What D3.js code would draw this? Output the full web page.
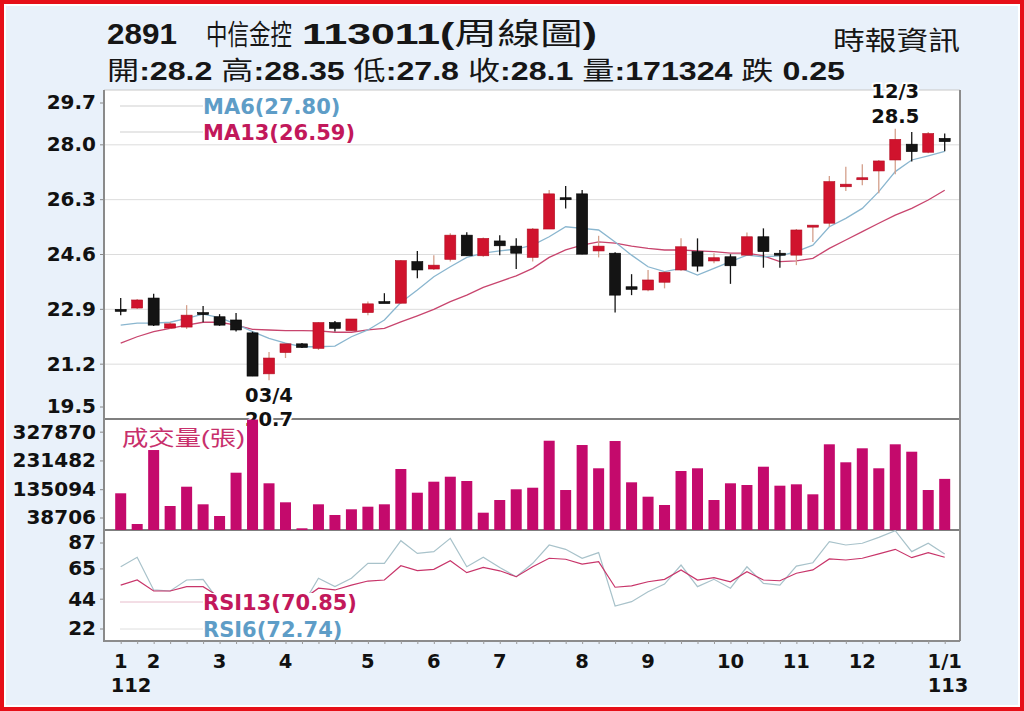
<!DOCTYPE html>
<html><head><meta charset="utf-8">
<script src="https://cdn.jsdelivr.net/npm/d3@7"></script>
<style>html,body{margin:0;padding:0;background:#fff}svg{display:block}</style>
</head><body>
<svg id="c" width="1024" height="711"></svg>
<script>
// ---------- data ----------
const weeks = d3.range(51);
const open  = [22.90,22.94,23.25,22.32,22.35,22.80,22.67,22.57,22.17,20.90,21.56,21.83,21.69,22.49,22.24,22.80,23.14,23.09,24.38,24.15,24.45,25.20,24.56,25.02,24.86,24.51,25.39,26.36,26.48,24.71,24.64,23.60,23.50,23.74,24.12,24.69,24.40,24.53,24.58,25.15,24.64,24.58,25.49,25.57,26.70,26.92,27.19,27.53,28.02,27.77,28.20];
const high  = [23.25,23.22,23.38,22.50,23.03,23.00,22.75,22.79,22.21,21.58,21.83,21.86,22.50,22.54,22.60,23.14,23.40,24.43,24.71,24.58,25.26,25.29,25.13,25.20,25.10,25.42,26.60,26.72,26.60,25.18,24.67,23.99,24.12,24.08,25.10,25.10,24.64,24.61,25.28,25.41,24.74,25.39,25.51,27.03,27.32,27.40,27.53,28.50,28.40,28.40,28.35];
const low   = [22.72,22.91,22.38,22.29,22.29,22.50,22.39,22.21,20.83,20.70,21.39,21.70,21.64,22.21,22.24,22.72,23.12,23.07,23.86,24.12,24.38,24.56,24.53,24.58,24.15,24.38,25.39,26.03,24.61,24.51,22.80,23.34,23.46,23.55,24.10,24.07,24.33,23.69,24.58,24.19,24.19,24.27,24.99,25.46,26.57,26.75,26.50,27.09,27.48,27.74,27.80];
const close = [22.85,23.19,22.41,22.45,22.72,22.76,22.41,22.26,20.83,21.39,21.83,21.72,22.49,22.31,22.60,23.07,23.12,24.41,24.12,24.27,25.20,24.56,25.10,24.87,24.64,25.39,26.48,26.33,24.61,24.86,23.34,23.52,23.81,24.05,24.84,24.24,24.50,24.25,25.15,24.69,24.60,25.36,25.51,26.86,26.78,26.98,27.50,28.17,27.79,28.35,28.10];
const volume = [123000,20100,268000,80400,145100,86100,46900,192000,370000,156500,92800,5700,86100,50300,69400,78100,86100,204400,125000,161900,178600,164200,58000,100500,136400,141700,299200,134000,284800,206800,298200,159800,111600,83800,197700,206800,100500,156500,150800,212100,148500,153100,119600,287200,226900,273800,206800,287200,262400,134000,171324];
const ma6  = [22.41,22.47,22.47,22.50,22.62,22.75,22.64,22.44,22.21,22.00,21.85,21.74,21.74,21.76,22.05,22.26,22.57,23.11,23.50,23.91,24.22,24.51,24.64,24.71,24.77,24.89,25.15,25.46,25.41,25.36,24.99,24.58,24.22,24.07,24.17,23.96,24.17,24.38,24.58,24.53,24.56,24.69,24.89,25.46,25.72,26.03,26.55,27.17,27.53,27.66,27.80];
const ma13 = [21.85,22.05,22.21,22.31,22.41,22.50,22.50,22.41,22.28,22.26,22.24,22.24,22.23,22.19,22.19,22.26,22.31,22.51,22.70,22.90,23.14,23.34,23.58,23.76,23.94,24.17,24.51,24.74,24.89,24.99,24.95,24.86,24.79,24.74,24.74,24.71,24.69,24.64,24.64,24.56,24.38,24.40,24.48,24.79,25.05,25.31,25.57,25.82,26.03,26.29,26.59];
const rsi6  = [66.5,73.1,50.4,49.7,57.3,57.8,42.1,35.1,21.2,28.2,35.1,39.3,58.5,52.7,58.5,68.9,68.9,84.6,75.8,77.0,86.2,66.5,73.1,66.0,59.6,68.9,81.6,78.6,72.4,76.3,39.3,42.3,49.2,54.5,67.7,52.7,57.8,51.6,66.5,55.0,53.8,67.0,69.3,83.9,81.6,82.8,86.9,91.5,77.0,82.8,75.4];
const rsi13 = [53.8,57.3,49.7,49.7,52.7,52.7,45.5,42.1,35.1,37.9,41.4,43.4,51.6,50.4,53.8,56.6,57.3,67.2,63.8,64.7,70.7,62.4,66.1,63.7,59.6,66.5,72.4,71.7,68.4,70.0,52.3,53.2,56.1,57.8,64.3,57.3,58.9,56.1,63.1,57.3,56.8,62.0,64.3,71.9,71.2,72.4,75.4,78.6,72.8,76.3,73.1];
const priceTicks  = [29.7,28.0,26.3,24.6,22.9,21.2,19.5];
const volumeTicks = [327870,231482,135094,38706];
const rsiTicks    = [87,65,44,22];
const monthTickWeeks = [0,2,6,10,15,19,23,28,32,37,41,45,50];
const monthLabels    = ["1","2","3","4","5","6","7","8","9","10","11","12","1/1"];
const yearTickWeeks  = [0,50];
const yearLabels     = ["112","113"];
const lowMark  = {week:9,  date:"03/4", price:"20.7"};
const highMark = {week:47, date:"12/3", price:"28.5"};

// ---------- layout ----------
const L=104, R=960, T=90, PB=419, VB=530, RB=641;
const svg = d3.select("#c");
const AX = "'DejaVu Sans', Verdana, sans-serif";
const TF = "'Liberation Sans', Arial, 'Noto Sans CJK TC', sans-serif";

svg.append("rect").attr("width",1024).attr("height",711).attr("fill","#e60f18");
svg.append("rect").attr("x",4).attr("y",4).attr("width",1016).attr("height",703).attr("fill","#ffffff");
svg.append("rect").attr("x",6).attr("y",6).attr("width",1012).attr("height",699).attr("fill","#e9f1fa");
svg.append("rect").attr("x",L).attr("y",T).attr("width",R-L).attr("height",RB-T).attr("fill","#fff");

const x  = d3.scalePoint().domain(weeks).range([120.7, 944.7]);
const yP = d3.scaleLinear().domain([19.5, 29.7]).range([PB, T]);
const yV = d3.scaleLinear().domain([0, 372000]).range([VB, PB]);
const yR = d3.scaleLinear().domain([15, 92]).range([RB, VB]);
const clampLab = (y, top, bot) => Math.max(top+13, Math.min(bot-12, y));

// ---------- title ----------
function seg(parent, x0, y0, size, len){
  return parent.append("text").attr("x",x0).attr("y",y0).attr("font-family",TF)
    .attr("font-size",size).attr("fill","#161616")
    .attr("textLength",len).attr("lengthAdjust","spacingAndGlyphs");
}
seg(svg,107,44,30,70).attr("font-weight","bold").text("2891");
svg.append("text").attr("transform","translate(206,45) scale(1,1.3)")
  .attr("font-family",TF).attr("font-size",21.5).attr("fill","#161616").text("中信金控");
{
  const t = seg(svg,302,44,30,295);
  t.append("tspan").attr("font-weight","bold").text("113011(");
  t.append("tspan").attr("font-weight","normal").text("周線圖");
  t.append("tspan").attr("font-weight","bold").text(")");
}
seg(svg,833,50,26,127).attr("font-weight","normal").text("時報資訊");
{
  const t = seg(svg,107,80,26,738);
  const parts = [["開",0],[":28.2 ",1],["高",0],[":28.35 ",1],["低",0],[":27.8 ",1],["收",0],[":28.1 ",1],["量",0],[":171324 ",1],["跌",0],[" 0.25",1]];
  parts.forEach(([s,b]) => t.append("tspan").attr("font-weight", b ? "bold" : "normal").text(s));
}

// ---------- price panel ----------
const gP = svg.append("g");
gP.selectAll("line.grid").data(priceTicks.slice(1,-1)).join("line")
  .attr("x1",L).attr("x2",R).attr("y1",d=>yP(d)).attr("y2",d=>yP(d))
  .attr("stroke","#dcdcdc").attr("stroke-width",1);

const maLine = arr => d3.line().x(i=>x(i)).y(i=>yP(arr[i]))(weeks);
gP.append("path").attr("d",maLine(ma13)).attr("fill","none").attr("stroke","#c8456e").attr("stroke-width",1.3);
gP.append("path").attr("d",maLine(ma6)).attr("fill","none").attr("stroke","#8ab6cf").attr("stroke-width",1.3);

const up = i => close[i] >= open[i];
const bw = 11;
gP.selectAll("line.wick").data(weeks).join("line")
  .attr("x1",i=>x(i)).attr("x2",i=>x(i)).attr("y1",i=>yP(high[i])).attr("y2",i=>yP(low[i]))
  .attr("stroke",i=>up(i) ? "#d4a08c" : "#151515").attr("stroke-width",1.3);
gP.selectAll("rect.body").data(weeks).join("rect")
  .attr("x",i=>x(i)-bw/2).attr("width",bw)
  .attr("y",i=>yP(Math.max(open[i],close[i])))
  .attr("height",i=>Math.max(2, Math.abs(yP(open[i])-yP(close[i]))))
  .attr("fill",i=>up(i) ? "#d0132d" : "#141414")
  .attr("stroke",i=>up(i) ? "#b30e22" : "#000").attr("stroke-width",0.6);

// MA legend
[[106,"MA6(27.80)","#5e9dc7"],[132,"MA13(26.59)","#c2185b"]].forEach(([y,s,c])=>{
  gP.append("line").attr("x1",120).attr("x2",203).attr("y1",y).attr("y2",y).attr("stroke","#cfcfcf");
  gP.append("text").attr("x",203).attr("y",y+8).attr("font-family",AX).attr("font-weight","bold")
    .attr("font-size",21).attr("fill",c).text(s);
});

// frame lines
const frame = svg.append("g");
frame.append("line").attr("x1",L).attr("x2",R).attr("y1",T).attr("y2",T).attr("stroke","#c8c8c8").attr("stroke-width",1);
frame.append("line").attr("x1",L).attr("x2",R).attr("y1",PB).attr("y2",PB).attr("stroke","#7f7f7f").attr("stroke-width",2);
frame.append("line").attr("x1",L).attr("x2",R).attr("y1",VB).attr("y2",VB).attr("stroke","#7f7f7f").attr("stroke-width",2);
frame.append("line").attr("x1",R).attr("x2",R).attr("y1",T).attr("y2",RB).attr("stroke","#8c8c8c").attr("stroke-width",2);

// annotations (with halo)
const ann = svg.append("g").attr("font-family",AX).attr("font-weight","bold").attr("font-size",19.5)
  .attr("fill","#111").attr("text-anchor","middle")
  .attr("stroke","#fff").attr("stroke-width",4).attr("paint-order","stroke").attr("stroke-linejoin","round");
ann.append("text").attr("x",x(lowMark.week)).attr("y",yP(+lowMark.price)+22).text(lowMark.date);
ann.append("text").attr("x",x(lowMark.week)).attr("y",yP(+lowMark.price)+46).text(lowMark.price);
ann.append("text").attr("x",x(highMark.week)).attr("y",yP(+highMark.price)-31).text(highMark.date);
ann.append("text").attr("x",x(highMark.week)).attr("y",yP(+highMark.price)-6).text(highMark.price);

// ---------- volume panel ----------
const gV = svg.append("g");
gV.selectAll("rect").data(weeks).join("rect")
  .attr("x",i=>x(i)-bw/2).attr("width",bw)
  .attr("y",i=>yV(volume[i])).attr("height",i=>yV(0)-yV(volume[i]))
  .attr("fill","#c40a6c");
gV.append("text").attr("x",122).attr("y",445).attr("font-family",TF).attr("font-size",21)
  .attr("fill","#c8306c").attr("textLength",123).attr("lengthAdjust","spacingAndGlyphs").text("成交量(張)");

// ---------- RSI panel ----------
const gR = svg.append("g");
const rLine = arr => d3.line().x(i=>x(i)).y(i=>yR(arr[i]))(weeks);
gR.append("path").attr("d",rLine(rsi6)).attr("fill","none").attr("stroke","#a8c2ca").attr("stroke-width",1.2);
gR.append("path").attr("d",rLine(rsi13)).attr("fill","none").attr("stroke","#c8356a").attr("stroke-width",1.2);
gR.append("rect").attr("x",204).attr("y",593).attr("width",162).attr("height",47).attr("fill","#fff");
[[602,"RSI13(70.85)","#c2185b","#e7bccb"],[629,"RSI6(72.74)","#5e9dc7","#dedede"]].forEach(([y,s,c,lc])=>{
  gR.append("line").attr("x1",120).attr("x2",203).attr("y1",y).attr("y2",y).attr("stroke",lc);
  gR.append("text").attr("x",203).attr("y",y+8).attr("font-family",AX).attr("font-weight","bold")
    .attr("font-size",21).attr("fill",c).text(s);
});

// ---------- axes ----------
function leftAxis(scale, ticks, fmt, top, bot){
  const g = svg.append("g").attr("transform",`translate(${L},0)`)
    .call(d3.axisLeft(scale).tickValues(ticks).tickFormat(fmt).tickSize(4).tickPadding(4));
  g.select(".domain").remove();
  g.selectAll(".tick").attr("transform", d => `translate(0,${clampLab(scale(d), top, bot)})`);
  g.selectAll(".tick line").attr("stroke","#888");
  g.selectAll(".tick text").attr("font-family",AX).attr("font-weight","bold").attr("font-size",20).attr("fill","#111");
  return g;
}
leftAxis(yP, priceTicks, d3.format(".1f"), T, PB);
leftAxis(yV, volumeTicks, d3.format("d"), PB, VB);
leftAxis(yR, rsiTicks, d3.format("d"), VB, RB);

const gx = svg.append("g").attr("transform",`translate(0,${RB})`)
  .call(d3.axisBottom(x).tickValues(weeks).tickSize(3).tickFormat(""));
gx.select(".domain").attr("stroke","#8c8c8c").attr("stroke-width",2).attr("d",`M${L},0H${R}`);
gx.selectAll(".tick line").attr("stroke","#999");

svg.append("line").attr("x1",L).attr("x2",L).attr("y1",T).attr("y2",RB+1).attr("stroke","#8a8a8a").attr("stroke-width",2);

const gm = svg.append("g").attr("font-family",AX).attr("font-weight","bold").attr("font-size",19.5).attr("fill","#111");
gm.selectAll("text.m").data(monthTickWeeks).join("text")
  .attr("x",d=>x(d)).attr("y",668).attr("text-anchor","middle").text((d,k)=>monthLabels[k]);
const yearOffset = [-10,-17];
gm.selectAll("text.yr").data(yearTickWeeks).join("text")
  .attr("x",(d,k)=>x(d)+yearOffset[k]).attr("y",692).attr("text-anchor","start").text((d,k)=>yearLabels[k]);
</script>
</body></html>
